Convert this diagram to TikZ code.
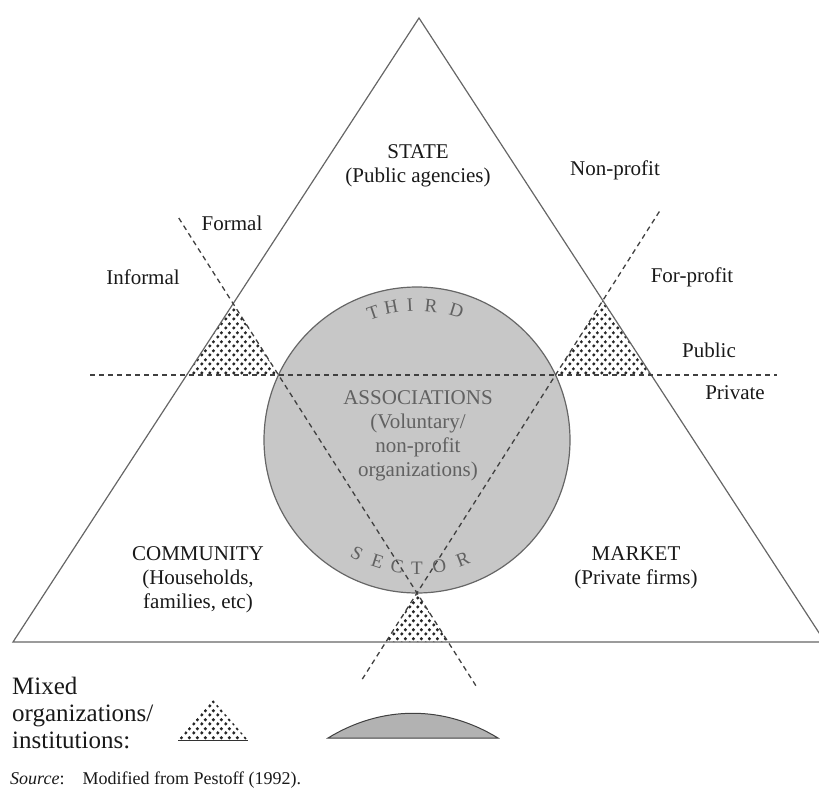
\documentclass[tikz,border=0pt]{standalone}
\usepackage{fontspec}
\setmainfont{Liberation Serif}
\usetikzlibrary{calc,patterns.meta}

% dot screen used for the mixed organizations
\tikzdeclarepattern{
  name=mixdots,
  type=uncolored,
  bounding box={(0pt,0pt) and (8pt,9pt)},
  tile size={(8pt,9pt)},
  code={
    \fill (2pt,2.25pt) circle (1.9pt);
    \fill (6pt,6.75pt) circle (1.9pt);
  }
}

\begin{document}
\begin{tikzpicture}[x=1pt,y=-1pt,
    every node/.style={font=\fontsize{21}{24}\selectfont, text=black!90,
        align=center, inner sep=0pt},
    sector/.style={draw=black!60, line width=1.2pt},
    split/.style={draw=black!75, line width=1.3pt, dash pattern=on 5pt off 4pt},
    mixed/.style={pattern=mixdots, pattern color=black!85},
    inner/.style={text=black!62},
    arcletter/.style={text=black!62, font=\fontsize{19}{19}\selectfont},
    legend/.style={font=\fontsize{25}{27}\selectfont, anchor=base west}]
    \useasboundingbox (0,0) rectangle (819,789);

    \coordinate (apex) at (419,18);
    \coordinate (bl) at (13,642);
    \coordinate (br) at (825,642);
    \coordinate (ctr) at (417,440);
    \coordinate (pl) at (278.5,375);
    \coordinate (pr) at (555.5,375);
    \coordinate (bot) at (417,593);
    \coordinate (hl) at (90,375);
    \coordinate (hr) at (777,375);

    % corners of the dotted triangles
    \coordinate (lt) at (intersection of pl--bot and apex--bl);
    \coordinate (lb) at (intersection of hl--hr and apex--bl);
    \coordinate (rt) at (intersection of pr--bot and apex--br);
    \coordinate (rb) at (intersection of hl--hr and apex--br);
    \coordinate (bbl) at (intersection of pr--bot and bl--br);
    \coordinate (bbr) at (intersection of pl--bot and bl--br);

    \fill[mixed] (lt) -- (lb) -- (pl) -- cycle;
    \fill[mixed] (rt) -- (pr) -- (rb) -- cycle;
    \fill[mixed] (bot) -- (bbl) -- (bbr) -- cycle;

    \node[circle, fill=black!22, draw=black!60, line width=1.2pt,
        minimum size=306pt] (circ) at (ctr) {};

    \draw[sector] (br) -- (bl) -- (apex) -- (br);
    \draw[split] (hl) -- (hr);
    \draw[split] ($(pl)!-0.72!(bot)$) -- ($(pl)!1.44!(bot)$);
    \draw[split] ($(pr)!-0.75!(bot)$) -- ($(pr)!1.40!(bot)$);

    \foreach \l/\a [count=\i] in {T/109,H/101,I/93,R/84,D/73}
        \node[arcletter, rotate=\a-90] (third\i) at ($(ctr)+(\a:135pt)$) {\l};
    \foreach \l/\a [count=\i] in {S/242,E/252,C/261,T/270,O/280,R/291}
        \node[arcletter, rotate=\a+90] (sector\i) at ($(ctr)+(\a:128pt)$) {\l};

    \node (state) at (418,166) {STATE\\(Public agencies)};
    \node[inner] (assoc) at (418,436)
        {ASSOCIATIONS\\(Voluntary/\\non-profit\\organizations)};
    \node (community) at (198,580) {COMMUNITY\\(Households,\\families, etc)};
    \node (market) at (636,568) {MARKET\\(Private firms)};

    \node (formal) at (232,223) {Formal};
    \node (informal) at (143,277) {Informal};
    \node (nonprofit) at (615,170) {Non-profit};
    \node (forprofit) at (692,277) {For-profit};
    \node (public) at (709,350) {Public};
    \node (private) at (735,393) {Private};

    % legend
    \node[legend] (mixedl) at (12,694) {Mixed};
    \node[legend] (orgl) at (12,721) {organizations/};
    \node[legend] (instl) at (12,748) {institutions:};
    \fill[mixed] (213,700) -- (248,740) -- (178,740) -- cycle;
    \draw[black!80, line width=1pt] (178,740) -- (248,740);
    \draw[draw=black!75, fill=black!30, line width=1pt]
        (328,738) .. controls (382,705) and (444,705) .. (498,738) -- cycle;

    \node[anchor=base west, font=\fontsize{18}{18}\selectfont] (src) at (10,784)
        {\textit{Source}:\quad Modified from Pestoff (1992).};
\end{tikzpicture}
\end{document}
